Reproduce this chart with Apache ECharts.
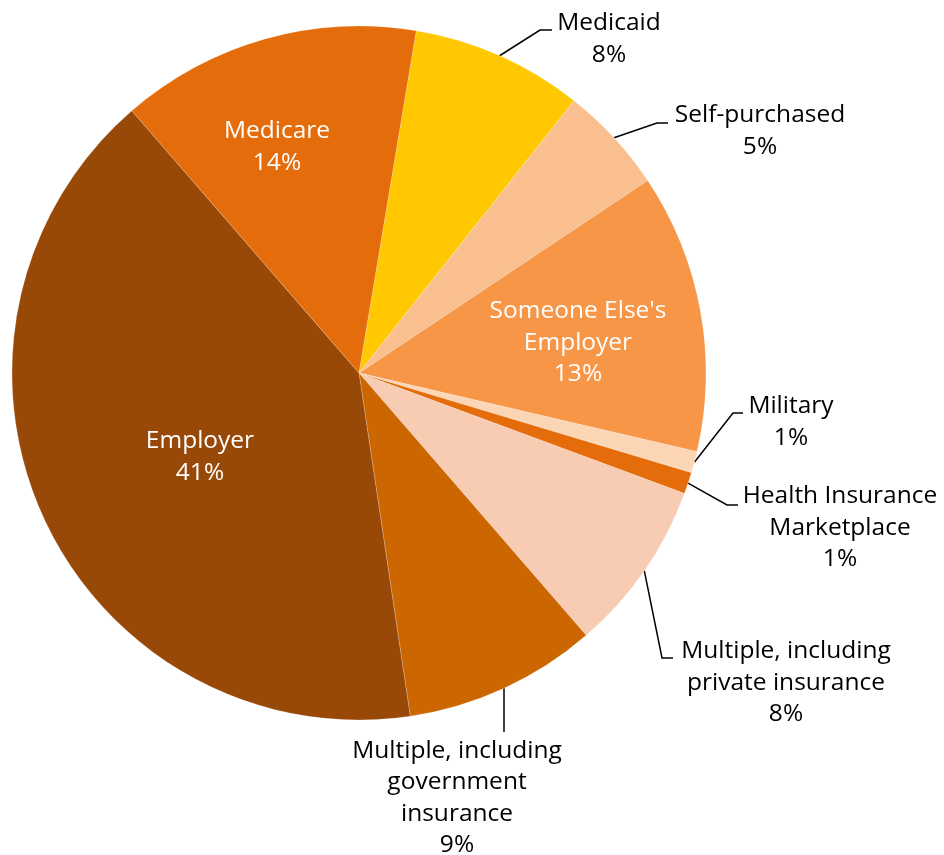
<!DOCTYPE html>
<html>
<head>
<meta charset="utf-8">
<script src="https://cdn.jsdelivr.net/npm/echarts@6/dist/echarts.min.js"></script>
<style>
  html, body { margin: 0; padding: 0; background: #ffffff; }
  #chart { width: 944px; height: 855px; }
</style>
</head>
<body>
<div id="chart"></div>
<script>
// Health coverage source shares (percent), clockwise from the top
const categories = [
  'Medicaid',
  'Self-purchased',
  "Someone Else's Employer",
  'Military',
  'Health Insurance Marketplace',
  'Multiple, including private insurance',
  'Multiple, including government insurance',
  'Employer',
  'Medicare'
];
const shares = [8, 5, 13, 1, 1, 8, 9, 41, 14];

// Text shown for each slice (line breaks as printed)
const labelLines = [
  ['Medicaid'],
  ['Self-purchased'],
  ["Someone Else's", 'Employer'],
  ['Military'],
  ['Health Insurance', 'Marketplace'],
  ['Multiple, including', 'private insurance'],
  ['Multiple, including', 'government', 'insurance'],
  ['Employer'],
  ['Medicare']
];

const sliceColors = ['#FFC800', '#F9BF8F', '#F79646', '#FCD5B4', '#E46C0A',
                     '#F8CBB3', '#CC6600', '#984807', '#E46C0A'];
const insideSlices = ["Someone Else's Employer", 'Employer', 'Medicare'];

// Where each label block sits (centre), plus leader-line elbow and end
const labelSpots = {
  'Medicaid': { x: 609, y: 39, line: [[540, 30], [552, 30]] },
  'Self-purchased': { x: 760, y: 131, line: [[657, 123], [668, 123]] },
  "Someone Else's Employer": { x: 578, y: 343 },
  'Military': { x: 791, y: 422, line: [[733, 413], [743, 413]] },
  'Health Insurance Marketplace': { x: 840, y: 528, line: [[727, 505], [738, 505]] },
  'Multiple, including private insurance': { x: 786, y: 683, line: [[662, 658], [673, 658]] },
  'Multiple, including government insurance': { x: 457, y: 798, vertical: 732 },
  'Employer': { x: 200, y: 457 },
  'Medicare': { x: 277, y: 147 }
};

const FONT = '"Open Sans", "Noto Sans", sans-serif';

const seriesData = categories.map(function (name, i) {
  const inside = insideSlices.indexOf(name) >= 0;
  return {
    name: name,
    value: shares[i],
    itemStyle: { color: sliceColors[i] },
    label: {
      show: true,
      position: inside ? 'inside' : 'outside',
      color: inside ? '#ffffff' : '#000000',
      formatter: labelLines[i].concat([shares[i] + '%']).join('\n')
    },
    labelLine: { show: !inside }
  };
});

const chart = echarts.init(document.getElementById('chart'), null, { renderer: 'canvas' });
chart.setOption({
  animation: false,
  backgroundColor: '#ffffff',
  series: [{
    type: 'pie',
    center: [359, 373],
    radius: [0, 347],
    startAngle: 80.5,
    clockwise: true,
    avoidLabelOverlap: false,
    itemStyle: { borderColor: 'rgba(255,255,255,0.4)', borderWidth: 0.5 },
    label: {
      fontFamily: FONT,
      fontSize: 24.5,
      lineHeight: 31.5,
      align: 'center'
    },
    labelLine: {
      length: 20,
      length2: 10,
      lineStyle: { color: '#000000', width: 1.5 }
    },
    emphasis: { disabled: true },
    data: seriesData,
    labelLayout: function (p) {
      const spot = labelSpots[categories[p.dataIndex]];
      if (!spot) { return; }
      const out = { x: spot.x, y: spot.y, align: 'center', verticalAlign: 'middle' };
      const pts = p.labelLinePoints;
      if (pts && pts.length) {
        const s = pts[0];
        if (spot.line) {
          out.labelLinePoints = [[s[0], s[1]], spot.line[0], spot.line[1]];
        } else if (spot.vertical != null) {
          out.labelLinePoints = [[s[0], s[1]], [s[0], (s[1] + spot.vertical) / 2], [s[0], spot.vertical]];
        }
      }
      return out;
    }
  }]
});
</script>
</body>
</html>
